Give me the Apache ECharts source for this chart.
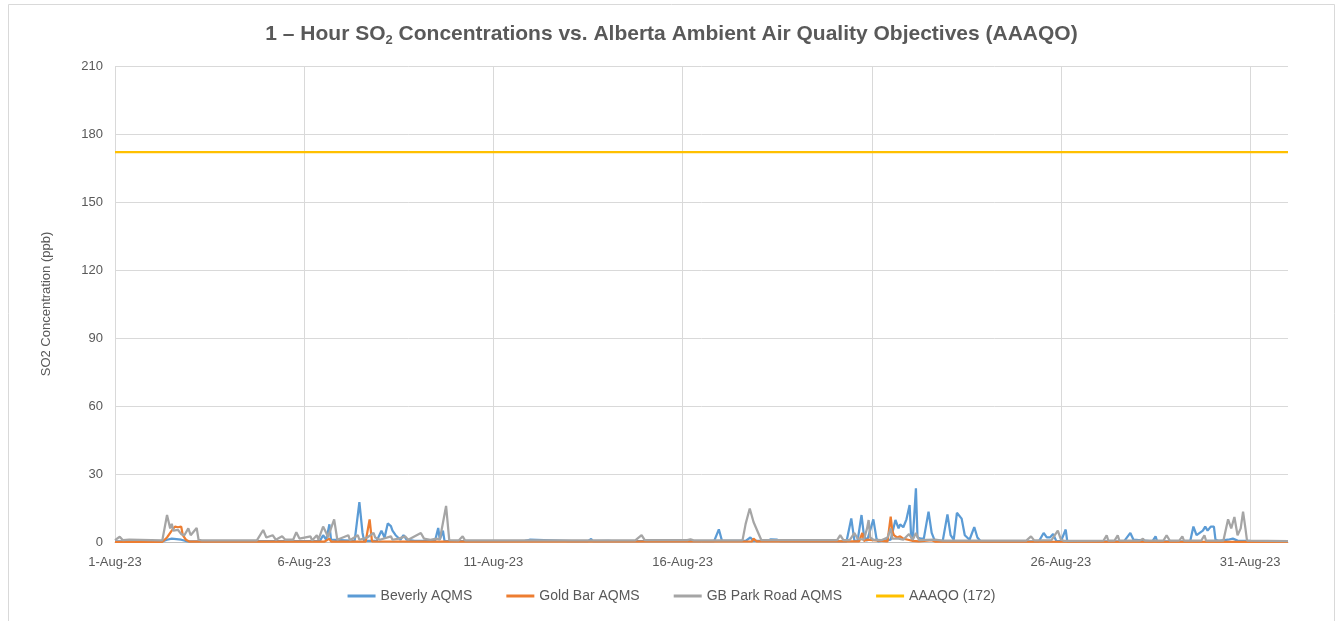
<!DOCTYPE html>
<html>
<head>
<meta charset="utf-8">
<script src="https://cdn.jsdelivr.net/npm/echarts@6/dist/echarts.min.js"></script>
<style>
  html, body { margin: 0; padding: 0; background: #fff; }
  #chart { width: 1343px; height: 621px; }
</style>
</head>
<body>
<div id="chart"></div>
<script>
// hourly SO2 (ppb), [hour since 1-Aug-23 00:00, value]
const beverly = [
  [0,0.3],[30,0.3],[33,1],[36,1.5],[42,1],[46,0.3],[130,0.5],[132,3],[134,1],[136,7.8],[137,1],
  [152,0.5],[155,17.6],[157,4],[158,0.5],[166,0.5],[169,5],[171,2],[173,8.2],[175,7],[176,5],[178,3],
  [181,1],[183,3],[185,1],[190,0.5],[203,0.5],[205,6.2],[206,1],[208,5],[209,0.5],[230,0.4],
  [260,0.5],[263,1],[264,0.4],[290,0.4],[291,1.2],[292,0.4],[300,0.4],[302,1.3],[303,0.4],
  [313,0.5],[314,1],[315,0.4],[380,0.4],[383,5.6],[385,0.5],[400,0.5],[403,2],[405,0.5],
  [414,0.5],[416,1.2],[420,1],[422,0.4],[464,0.3],[467,10.4],[469,0.5],[471,0.5],[473.5,11.9],
  [475,3],[477,0.5],[481,10],[483,1.5],[484,0.3],[492,1],[495,9.7],[497,6],[498,7.8],[500,6.5],
  [502,10],[504,16.3],[505,2],[506,1],[508,23.7],[509,2],[511,1.5],[513,1.5],[516,13.4],[518,4],
  [520,0.5],[525,0.5],[528,12.2],[530,3],[532,1],[534,12.9],[537,10.3],[539,3],[542,1],[545,6.6],
  [547,2],[549,0.3],[586,0.3],[589,4],[591,2],[593,2],[595,3.5],[597,0.5],[600,0.4],[603,5.5],
  [604,0.3],[640,0.3],[644,4],[646,1],[647,0.3],[658,0.3],[660,2.5],[661,0.3],[682,0.4],[684,6.8],
  [686,3],[688,4],[690,5],[691.5,6.8],[693,5],[695,6.8],[697,6.8],[698,1],[700,0.5],[706,1],
  [709,1.5],[712,0.6],[720,0.5],[744,0.3]
];
const goldBar = [
  [0,0.1],[30,0.1],[33,2],[34,3],[36,5],[38,6.8],[40,6.5],[42,6.8],[43,3],[45,1],[47,0.2],
  [133,0.2],[136,1.5],[137,0.2],[159,0.2],[161.5,10],[163,0.3],[200,0.2],[404,0.3],[405,1.5],
  [407,0.3],[472,0.3],[474,4],[475,0.5],[477,1],[478,0.3],[490,0.3],[492,11.2],[493,5],[494,3],
  [496,2],[498,2.5],[500,1.5],[503,1],[506,0.5],[510,0.3],[518,0.8],[520,0.2],[744,0.1]
];
const gbParkRoad = [
  [0,0.8],[3,2.3],[5,0.8],[9,1],[10,0.6],[30,0.7],[33,11.9],[35,6],[36,8],[37,5],[40,5.3],
  [42,3.5],[44,3],[46.5,6],[48,3],[51.8,6.2],[53,1],[55,0.7],[90,0.7],[94,5.3],[96,2],[100,3],
  [102,1],[106,2.5],[108,1],[113,1],[115,4.3],[117,1.5],[124,2.5],[125,0.7],[128,3],[129,1],
  [132,6.8],[134,4],[135,2],[139,10],[141,1],[148,3],[149,0.8],[154,3],[155,1],[160,2],[164,4],
  [165,2],[168,1],[175,2.5],[176,1],[180,1.5],[184,2.5],[186,1],[194,4],[196,1.5],[200,1],
  [204,1.5],[206,1],[210,15.9],[212,0.8],[218,0.7],[220.5,2.5],[222,0.7],[330,0.7],[334,3],
  [336,0.8],[363,0.8],[365,1.2],[367,0.7],[398,0.7],[400,8],[402.6,14.8],[405,8.8],[406,8],
  [408,4],[410,0.8],[458,0.8],[460,3],[462,0.8],[466,0.8],[469,4],[471,1.5],[475,1],[477,6],
  [478,9.7],[479,2],[481,1],[486,0.8],[490,2],[492,6],[493,1.5],[497,1.5],[500,1],[503.6,3.5],
  [506,1],[508,4],[510,0.8],[520,1],[525,0.6],[578,0.6],[581,2.5],[583,0.7],[594,0.8],[598,5],[600,1],
  [602,0.5],[627,0.6],[629,3],[630,0.6],[634,0.6],[636,3],[637,0.6],[650,0.6],[652,1.5],
  [653,0.6],[665,0.6],[667,3],[669,0.6],[675,0.6],[677,2.5],[678,0.6],[689,0.6],[691,3],
  [692,0.6],[703,0.6],[706,10],[708,6],[710,11],[712,3],[714,6],[715.5,13.4],[717,6],[718,0.6],
  [744,0.4]
];
const aaaqo = [[0,172],[744,172]];

const yTicks = [0, 30, 60, 90, 120, 150, 180, 210];
const xStartDay = 1; // 1-Aug-23

const textColor = '#595959';
const gridColor = '#D9D9D9';
const font = 'Liberation Sans';

const chart = echarts.init(document.getElementById('chart'));
const option = {
  backgroundColor: '#fff',
  animation: false,
  textStyle: { fontFamily: font },
  title: {
    text: '1 – Hour SO{sub|2} Concentrations vs. Alberta Ambient Air Quality Objectives (AAAQO)',
    left: 'center',
    top: 16,
    textStyle: {
      fontFamily: font,
      fontSize: 21,
      fontWeight: 'bold',
      color: textColor,
      rich: {
        sub: { fontSize: 13, fontWeight: 'bold', color: textColor, fontFamily: font, padding: [13, 0, 0, 0] }
      }
    }
  },
  graphic: [{
    type: 'rect',
    shape: { x: 8.5, y: 4.5, width: 1326, height: 620 },
    style: { fill: 'none', stroke: '#D9D9D9', lineWidth: 1 },
    silent: true
  }],
  legend: {
    bottom: 13,
    left: 'center',
    icon: 'rect',
    itemWidth: 28,
    itemHeight: 3,
    itemGap: 34,
    textStyle: { color: textColor, fontSize: 14, fontFamily: font },
    data: ['Beverly AQMS', 'Gold Bar AQMS', 'GB Park Road AQMS', 'AAAQO (172)']
  },
  grid: { left: 115, right: 55, top: 66, bottom: 79 },
  xAxis: {
    type: 'value',
    min: 0,
    max: 744,
    interval: 120,
    axisLine: { show: true, lineStyle: { color: '#BFBFBF', width: 1 } },
    axisTick: { show: false },
    axisLabel: {
      color: textColor, fontSize: 13, fontFamily: font, margin: 14,
      showMaxLabel: false,
      formatter: v => (xStartDay + v / 24) + '-Aug-23'
    },
    splitLine: {
      show: true,
      lineStyle: { color: [gridColor, gridColor, gridColor, gridColor, gridColor, gridColor, gridColor, 'rgba(0,0,0,0)'], width: 1 }
    }
  },
  yAxis: {
    type: 'value',
    min: yTicks[0],
    max: yTicks[yTicks.length - 1],
    interval: 30,
    name: 'SO2 Concentration (ppb)',
    nameLocation: 'middle',
    nameGap: 62,
    nameTextStyle: { color: textColor, fontSize: 13, fontFamily: font },
    axisLine: { show: false },
    axisTick: { show: false },
    axisLabel: { color: textColor, fontSize: 13, fontFamily: font, margin: 12 },
    splitLine: { lineStyle: { color: gridColor, width: 1 } }
  },
  series: [
    { name: 'Beverly AQMS', type: 'line', data: beverly, symbol: 'none', color: '#5B9BD5', lineStyle: { width: 2.25 }, z: 3 },
    { name: 'Gold Bar AQMS', type: 'line', data: goldBar, symbol: 'none', color: '#ED7D31', lineStyle: { width: 2.25 }, z: 4 },
    { name: 'GB Park Road AQMS', type: 'line', data: gbParkRoad, symbol: 'none', color: '#A5A5A5', lineStyle: { width: 2.25 }, z: 5 },
    { name: 'AAAQO (172)', type: 'line', data: aaaqo, symbol: 'none', color: '#FFC000', lineStyle: { width: 2.25 }, z: 6 }
  ]
};
chart.setOption(option);
</script>
</body>
</html>
